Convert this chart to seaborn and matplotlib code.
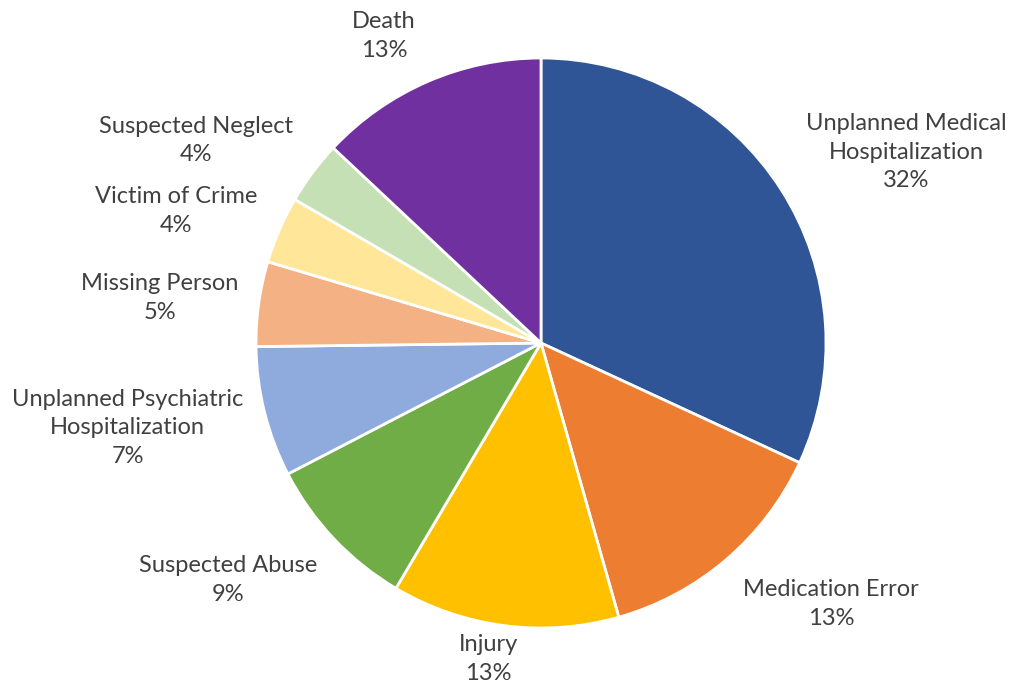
import matplotlib
matplotlib.use("Agg")
import matplotlib.pyplot as plt
import seaborn as sns
import numpy as np

sns.set_theme(style="white")
plt.rcParams['font.family'] = ['Lato', 'DejaVu Sans']

categories = ["Unplanned Medical\nHospitalization", "Medication Error", "Injury",
              "Suspected Abuse", "Unplanned Psychiatric\nHospitalization", "Missing Person",
              "Victim of Crime", "Suspected Neglect", "Death"]
values = [31.9, 13.7, 12.9, 8.9, 7.4, 4.8, 3.8, 3.6, 13.0]
pct_labels = ["32%", "13%", "13%", "9%", "7%", "5%", "4%", "4%", "13%"]
colors = ["#2F5597", "#ED7D31", "#FFC000", "#70AD47", "#8FAADC",
          "#F4B183", "#FFE699", "#C5E0B4", "#7030A0"]
# label placement (radius in pie radii, angle in degrees)
label_r = [1.445, 1.369, 1.124, 1.378, 1.480, 1.346, 1.362, 1.403, 1.210]
label_ang = [27.6, -42.0, -99.5, -142.9, -168.4, 173.3, 160.1, 149.6, 117.1]

W, H = 1011, 685
fig = plt.figure(figsize=(W / 100, H / 100), dpi=100)
ax = fig.add_axes([0, 0, 1, 1])
cx, cy, R = 541, 343, 285

wedges, _ = ax.pie(values, colors=colors, startangle=90, counterclock=False,
                   wedgeprops=dict(edgecolor="white", linewidth=2))
ax.set_xlim(-cx / R, (W - cx) / R)
ax.set_ylim(-(H - cy) / R, cy / R)
ax.set_aspect('auto')
ax.axis('off')

for lab, p, r, a in zip(categories, pct_labels, label_r, label_ang):
    t = np.deg2rad(a)
    ax.text(r * np.cos(t), r * np.sin(t), f"{lab}\n{p}",
            ha="center", va="center", fontsize=17, color="#404040", linespacing=1.45)

fig.savefig("out.png", dpi=100)
